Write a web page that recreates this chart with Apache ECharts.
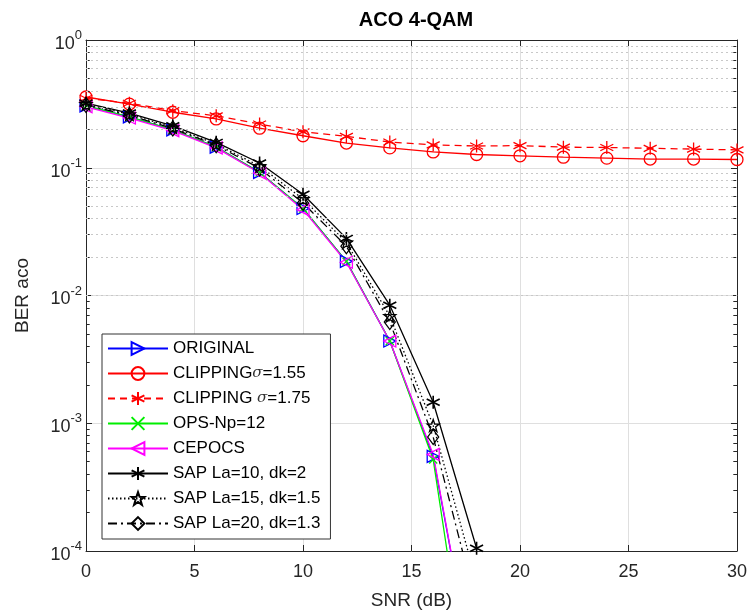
<!DOCTYPE html>
<html>
<head>
<meta charset="utf-8">
<script src="https://cdn.jsdelivr.net/npm/echarts@6/dist/echarts.min.js"></script>
<style>html,body{margin:0;padding:0;background:#fff}#c{width:750px;height:615px}</style>
</head>
<body>
<div id="c"></div>
<script>
// ---- data ----
var snrFull = [0,2,4,6,8,10,12,14,16,18,20,22,24,26,28,30];
var snrShort = [0,2,4,6,8,10,12,14,16,18];
var clip155 = [0.358,0.315,0.272,0.241,0.204,0.178,0.156,0.143,0.133,0.127,0.124,0.121,0.119,0.117,0.117,0.116];
var clip175 = [0.35,0.32,0.28,0.255,0.22,0.191,0.176,0.159,0.151,0.148,0.149,0.145,0.144,0.142,0.140,0.138];
var original = [0.305,0.250,0.198,0.145,0.092,0.048,0.0185,0.0044,0.00055,8e-6];
var ops = [0.305,0.250,0.198,0.145,0.092,0.048,0.0185,0.0044,0.00052,3e-6];
var cepocs = [0.300,0.245,0.195,0.143,0.091,0.047,0.0182,0.0044,0.00057,8e-6];
var sap10 = [0.320,0.268,0.213,0.158,0.109,0.062,0.028,0.0084,0.00146,1.05e-4];
var sap15 = [0.315,0.262,0.207,0.153,0.103,0.057,0.026,0.0069,0.00096,5.7e-5];
var sap20 = [0.310,0.257,0.203,0.150,0.099,0.053,0.0243,0.0062,0.00078,3.7e-5];
var xTicks = [0,5,10,15,20,25,30];
var yDecades = [-4,-3,-2,-1,0];
var minorMult = [2,3,4,5,6,7,8,9];

function pairs(xs, ys){ return ys.map(function(v,i){ return [xs[i], v]; }); }

var minorVals = [];
yDecades.slice(0,4).forEach(function(d){ minorMult.forEach(function(m){ minorVals.push(m*Math.pow(10,d)); }); });
var minorLines = minorVals.map(function(v){ return {yAxis: v}; });
var minorTickSegs = [];
minorVals.forEach(function(v){
  minorTickSegs.push([{coord: [0, v]}, {coord: [0.17, v]}]);
  minorTickSegs.push([{coord: [30, v]}, {coord: [29.83, v]}]);
});

var SYM_AST = 'path://M0,-10L0,10M-8.66,-5L8.66,5M-8.66,5L8.66,-5';
var SYM_X = 'path://M-10,-10L10,10M-10,10L10,-10';
var SYM_STAR = 'path://M0,-10L2.35,-3.24L9.51,-3.09L3.8,1.24L5.88,8.09L0,4L-5.88,8.09L-3.8,1.24L-9.51,-3.09L-2.35,-3.24Z';
var SYM_TRI_R = 'path://M-8,-9L9,0L-8,9Z';
var SYM_TRI_L = 'path://M8,-9L-9,0L8,9Z';

function mk(name, xs, ys, color, ltype, symbol, size, bw){
  return {
    name: name, type: 'line', data: pairs(xs, ys),
    symbol: symbol, symbolSize: size, showSymbol: true, clip: true,
    lineStyle: {color: color, width: 1.3, type: ltype},
    itemStyle: {color: 'rgba(0,0,0,0)', borderColor: color, borderWidth: bw || 1.3},
    emphasis: {disabled: true}, animation: false, z: 3
  };
}

var series = [
  mk('ORIGINAL', snrShort, original, '#0000ff', 'solid', SYM_TRI_R, 12),
  mk('CLIP155', snrFull, clip155, '#ff0000', 'solid', 'circle', 12),
  mk('CLIP175', snrFull, clip175, '#ff0000', [7,5], SYM_AST, 13),
  mk('OPS-Np=12', snrShort, ops, '#00ee00', 'solid', SYM_X, 8),
  mk('CEPOCS', snrShort, cepocs, '#ff00ff', 'solid', SYM_TRI_L, 12),
  mk('SAP La=10, dk=2', snrShort, sap10, '#000000', 'solid', SYM_AST, 13, 1.6),
  mk('SAP La=15, dk=1.5', snrShort, sap15, '#000000', [1.5,2.5], SYM_STAR, 12),
  mk('SAP La=20, dk=1.3', snrShort, sap20, '#000000', [9,4,2,4], 'diamond', [11,15])
];
series[1].markLine = {
  silent: true, symbol: ['none','none'], label: {show: false}, animation: false,
  lineStyle: {color: '#c8c8c8', type: [2,3], width: 1}, data: minorLines
};
series[0].markLine = {
  silent: true, symbol: ['none','none'], label: {show: false}, animation: false,
  lineStyle: {color: '#262626', type: 'solid', width: 1}, data: minorTickSegs
};

var chart = echarts.init(document.getElementById('c'));
var legendLabels = {
  'CLIP155': '{a|CLIPPING}{s|σ}{a|=1.55}',
  'CLIP175': '{a|CLIPPING }{s|σ}{a|=1.75}'
};
chart.setOption({
  backgroundColor: '#ffffff',
  animation: false,
  title: {
    text: 'ACO 4-QAM', left: 411, top: 5, textAlign: 'center',
    textStyle: {fontFamily: 'Liberation Sans', fontWeight: 'bold', fontSize: 20, color: '#000'}
  },
  grid: {left: 86, right: 13, top: 40, bottom: 63},
  legend: {
    orient: 'vertical', left: 102, top: 334,
    itemWidth: 60, itemHeight: 16, itemGap: 8,
    padding: [6, 10, 7, 5],
    backgroundColor: '#ffffff', borderColor: '#333', borderWidth: 1, borderRadius: 0,
    selectedMode: false,
    data: series.map(function(s){ return s.name; }),
    formatter: function(n){ return legendLabels[n] || n; },
    textStyle: {
      fontFamily: 'Liberation Sans', fontSize: 17, color: '#000',
      rich: {
        a: {fontFamily: 'Liberation Sans', fontSize: 17, color: '#000'},
        s: {fontFamily: 'DejaVu Serif', fontStyle: 'italic', fontSize: 15, color: '#333'}
      }
    }
  },
  xAxis: [{
    type: 'value', min: 0, max: 30, interval: 5,
    name: 'SNR (dB)', nameLocation: 'middle', nameGap: 40,
    nameTextStyle: {fontFamily: 'Liberation Sans', fontSize: 19, color: '#262626'},
    axisLine: {show: true, onZero: false, lineStyle: {color: '#262626', width: 1}},
    axisTick: {show: true, inside: true, length: 6, lineStyle: {color: '#262626'}},
    axisLabel: {fontFamily: 'Liberation Sans', fontSize: 18, color: '#262626', margin: 12},
    splitLine: {show: true, lineStyle: {color: '#dfdfdf', width: 1}}
  }, {
    type: 'value', min: 0, max: 30, interval: 5, position: 'top',
    axisLine: {show: true, onZero: false, lineStyle: {color: '#262626', width: 1}},
    axisTick: {show: true, inside: true, length: 6, lineStyle: {color: '#262626'}},
    axisLabel: {show: false}, splitLine: {show: false}
  }],
  yAxis: [{
    type: 'log', logBase: 10, min: 1e-4, max: 1,
    name: 'BER aco', nameLocation: 'middle', nameGap: 54, nameRotate: 90,
    nameTextStyle: {fontFamily: 'Liberation Sans', fontSize: 19, color: '#262626'},
    axisLine: {show: true, onZero: false, lineStyle: {color: '#262626', width: 1}},
    axisTick: {show: true, inside: true, length: 6, lineStyle: {color: '#262626'}},
    axisLabel: {
      margin: 4,
      formatter: function(v){ var e = Math.round(Math.log10(v)); return '{b|10}{e|' + e + '}'; },
      rich: {
        b: {fontFamily: 'Liberation Sans', fontSize: 18, color: '#262626', padding: [8,0,0,0]},
        e: {fontFamily: 'Liberation Sans', fontSize: 13, color: '#262626', padding: [0,0,9,0]}
      }
    },
    splitLine: {show: true, lineStyle: {color: '#dfdfdf', width: 1}}
  }, {
    type: 'log', logBase: 10, min: 1e-4, max: 1, position: 'right',
    axisLine: {show: true, onZero: false, lineStyle: {color: '#262626', width: 1}},
    axisTick: {show: true, inside: true, length: 6, lineStyle: {color: '#262626'}},
    axisLabel: {show: false}, splitLine: {show: false}
  }],
  series: series
});
</script>
</body>
</html>
